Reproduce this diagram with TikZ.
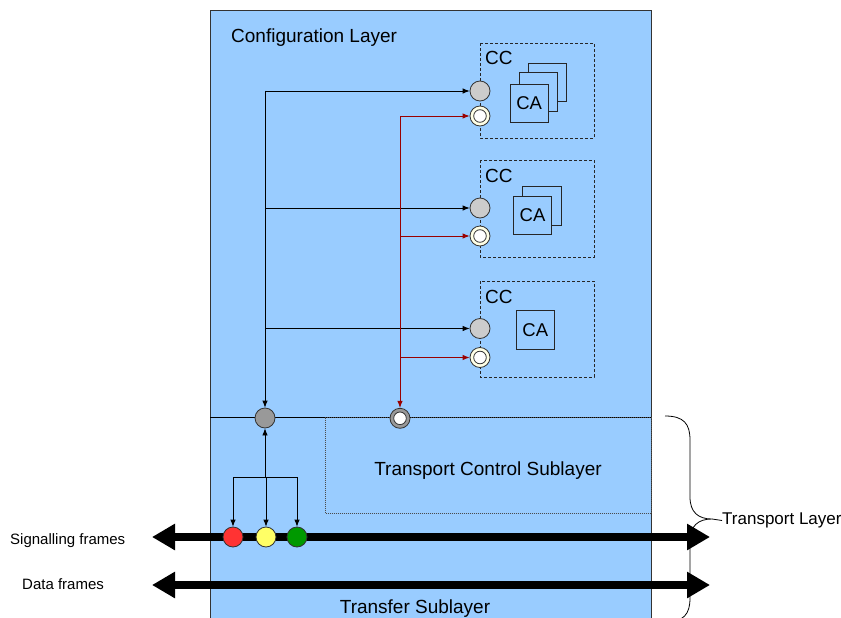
\documentclass[tikz,border=0pt]{standalone}
\usepackage{fontspec}
\setmainfont{Liberation Sans}
\usetikzlibrary{arrows.meta}
\definecolor{layerblue}{HTML}{99CCFF}
\definecolor{portgray}{HTML}{CCCCCC}
\definecolor{hubgray}{HTML}{999999}
\definecolor{sigred}{HTML}{990000}
\definecolor{ringcream}{HTML}{FFFFE6}
\definecolor{edgegray}{HTML}{333333}
\definecolor{flagred}{HTML}{FF3333}
\definecolor{flagyellow}{HTML}{FFFF66}
\definecolor{flaggreen}{HTML}{009900}

\begin{document}
\begin{tikzpicture}[x=1pt, y=-1pt, >={Latex[length=7pt,width=5.5pt]},
  big/.style={font=\fontsize{19}{22}\selectfont, inner sep=0pt},
  small/.style={font=\fontsize{15}{18}\selectfont, inner sep=0pt},
  ccbox/.style={draw=black!85, dash pattern=on 3pt off 2pt, line width=0.8pt},
  cashape/.style={draw=black!85, fill=layerblue, line width=0.8pt},
  cabox/.style={cashape, minimum width=38pt, minimum height=38.5pt, inner sep=0pt, font=\fontsize{18.5}{20}\selectfont},
  port/.style={circle, draw=edgegray, fill=portgray, minimum size=20pt, inner sep=0pt, line width=0.8pt},
  ring/.style={port, fill=ringcream, path picture={\draw[edgegray, fill=white, line width=0.8pt] (path picture bounding box.center) circle (6.3pt);}},
  flag/.style={circle, draw=edgegray, minimum size=20pt, inner sep=0pt, line width=0.8pt},
  arr/.style={->, line width=0.8pt},
  redarr/.style={->, sigred, line width=0.9pt},
  bus/.style={line width=8pt, {Triangle[length=23pt,width=25pt]}-{Triangle[length=23pt,width=25pt]}}]

  \clip (0,0) rectangle (841,618);
  \fill[white] (0,0) rectangle (841,618);

  % layers
  \draw[edgegray, fill=layerblue, line width=0.8pt] (210,10) rectangle (651,630);
  \draw[line width=0.8pt] (210,417.5) -- (651,417.5);
  \draw[black!70, dash pattern=on 1pt off 1pt] (325,417.5) rectangle (651,513);

  \node[big, anchor=base west] (cfglbl) at (231,43) {Configuration Layer};
  \node[big] (tcslbl) at (488,470.5) {Transport Control Sublayer};
  \node[big] (tfrlbl) at (415,609) {Transfer Sublayer};

  % configuration components
  \draw[ccbox] (480,43) rectangle (594,138);
  \draw[ccbox] (480,160) rectangle (594,257);
  \draw[ccbox] (480,281) rectangle (594,377);
  \node[big, anchor=base west] (cc1) at (485,64.5) {CC};
  \node[big, anchor=base west] (cc2) at (485,182.5) {CC};
  \node[big, anchor=base west] (cc3) at (485,303) {CC};

  \draw[cashape] (528.3,63.3) rectangle (566.7,101.7);
  \draw[cashape] (519.3,72.7) rectangle (557.3,111);
  \node[cabox] (ca1) at (529.2,103.5) {CA};
  \draw[cashape] (522.3,186.7) rectangle (561,225.7);
  \node[cabox] (ca2) at (532.5,215.5) {CA};
  \node[cabox] (ca3) at (535.3,330) {CA};

  \node[port] (p1) at (480,91) {};
  \node[ring] (r1) at (480,116) {};
  \node[port] (p2) at (480,208) {};
  \node[ring] (r2) at (480,236) {};
  \node[port] (p3) at (480,328.5) {};
  \node[ring] (r3) at (480,357.5) {};

  \node[port, fill=hubgray] (hub) at (265,418) {};
  \node[ring, fill=hubgray] (tcs) at (400,418.3) {};

  \draw[arr] (hub.center |- p1) -- (hub);
  \foreach \p in {p1,p2,p3}
    \draw[arr] (hub.center |- \p) -- (\p);
  \draw[redarr] (tcs.center |- r1) -- (tcs);
  \foreach \r in {r1,r2,r3}
    \draw[redarr] (tcs.center |- \r) -- (\r);

  % frame buses
  \coordinate (sigW) at (152,537);
  \coordinate (sigE) at (710,537);
  \coordinate (datW) at (152,585);
  \coordinate (datE) at (710,585);
  \draw[bus] (sigW) -- (sigE);
  \draw[bus] (datW) -- (datE);
  \node[small, anchor=west] (siglbl) at (10,541) {Signalling frames};
  \node[small, anchor=west] (datlbl) at (22,584.5) {Data frames};

  \node[flag, fill=flagred] (fr) at (233,537) {};
  \node[flag, fill=flagyellow] (fy) at (266,537) {};
  \node[flag, fill=flaggreen] (fg) at (297,537) {};

  \coordinate (split) at (265,477);
  \draw[arr] (split) -- (hub);
  \draw[line width=0.8pt] (fr.center |- split) -- (fg.center |- split);
  \foreach \f in {fr,fy,fg}
    \draw[arr] (\f.center |- split) -- (\f);

  % transport layer brace
  \coordinate (tip) at (712,519);
  \draw[line width=0.8pt] (665,416) .. controls (684,416) and (690,424) .. (690,440) -- (690,497)
    .. controls (690,512) and (698,519) .. (tip)
    .. controls (698,519) and (690,526) .. (690,541) -- (690,598)
    .. controls (690,614) and (684,622) .. (665,622);
  \node[font=\fontsize{17}{20}\selectfont, inner sep=0pt, anchor=west] (tl) at (722,520.5) {Transport Layer};
  \draw[line width=0.8pt] (tip) -- (tl.west);
\end{tikzpicture}
\end{document}
